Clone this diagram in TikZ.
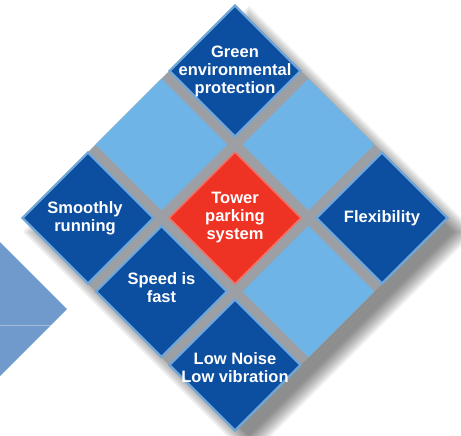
\documentclass[tikz,border=0pt]{standalone}
\usepackage{fontspec}
\setmainfont{Liberation Sans}
\usetikzlibrary{shapes.geometric}

\definecolor{cellblue}{RGB}{12,78,160}
\definecolor{cellrim}{RGB}{112,166,216}
\definecolor{paleblue}{RGB}{110,180,230}
\definecolor{towerred}{RGB}{238,50,36}
\definecolor{gapgrey}{RGB}{156,160,165}
\definecolor{arrowblue}{RGB}{112,153,204}

\tikzset{
  cellbox/.style={
    shape=diamond,
    minimum width=132pt,
    minimum height=132pt,
    inner sep=0pt
  },
  darkcell/.style={cellbox, fill=cellblue, draw=cellrim, line width=2.2pt},
  palecell/.style={cellbox, fill=paleblue},
  redcell/.style={cellbox, fill=towerred, draw=towerred!70!white, line width=1.6pt},
  celltext/.style={
    text=white,
    align=center,
    font=\bfseries\fontsize{16.5}{18}\selectfont
  }
}

\begin{document}
\begin{tikzpicture}[x=1pt, y=-1pt]
    \useasboundingbox (0,0) rectangle (461,436);

    % arrow on the left
    \fill[arrowblue] (0,242) -- (67,309) -- (0,376) -- cycle;
    \draw[white, opacity=0.35, line width=0.8pt] (0,325) -- (51,325);

    % soft shadow
    \foreach \r in {0,...,7}
      \node[
        shape=diamond,
        minimum width={2*(205pt+3pt*\r)},
        minimum height={2*(205pt+3pt*\r)},
        inner sep=0pt,
        fill=black,
        opacity=0.07
      ] at (249,232) {};

    % grey ground under the grid
    \node[
      shape=diamond,
      minimum width=426pt,
      minimum height=426pt,
      inner sep=0pt,
      fill=gapgrey
    ] (ground) at (235,218) {};

    % pale cells
    \node[palecell] (upleft) at (161.5,144.5) {};
    \node[palecell] (upright) at (308.5,144.5) {};
    \node[palecell] (downright) at (308.5,291.5) {};

    % feature cells
    \node[darkcell] (green) at (235,71) {};
    \node[darkcell] (smooth) at (88,218) {};
    \node[darkcell] (flex) at (382,218) {};
    \node[darkcell] (speed) at (161.5,291.5) {};
    \node[darkcell] (noise) at (235,365) {};
    \node[redcell] (tower) at (235,218) {};

    \node[celltext] (greentext) at (green) {Green\\environmental\\protection};
    \node[celltext] (smoothtext) at ([xshift=-3pt]smooth) {Smoothly\\running};
    \node[celltext] (flextext) at (flex) {Flexibility};
    \node[celltext] (speedtext) at ([yshift=4pt]speed) {Speed is\\fast};
    \node[celltext] (noisetext) at ([yshift=-3pt]noise) {Low Noise\\Low vibration};
    \node[celltext] (towertext) at (tower) {Tower\\parking\\system};
\end{tikzpicture}
\end{document}
